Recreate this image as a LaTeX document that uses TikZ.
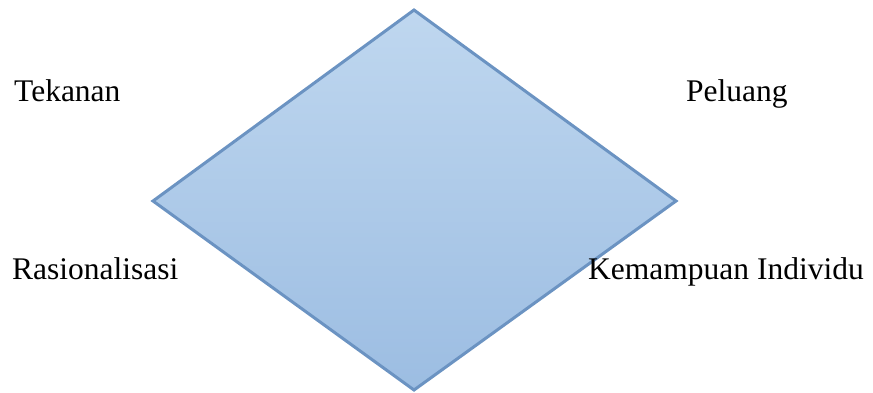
\documentclass[tikz,border=0pt]{standalone}
\usepackage{fontspec}
\setmainfont{Liberation Serif}[Ligatures=TeX]
\newfontfamily\tnr{Liberation Serif}
\definecolor{dtop}{HTML}{BFD7EF}
\definecolor{dbot}{HTML}{9CBDE2}
\definecolor{dline}{HTML}{6B93C2}
\tikzset{lbl/.style={anchor=base west, inner sep=0pt, font=\tnr\fontsize{31.5}{36}\selectfont}}
\begin{document}
\begin{tikzpicture}[x=1pt,y=-1pt]
\useasboundingbox (0,0) rectangle (873,392);
\coordinate (t) at (414,10);
\coordinate (l) at (153,201);
\coordinate (r) at (676,201);
\coordinate (b) at (414,390);
\path[top color=dtop, bottom color=dbot, draw=dline, line width=3pt, line join=miter] (t) -- (r) -- (b) -- (l) -- cycle;
\node[lbl] (tek) at (14,101) {Tekanan};
\node[lbl] (pel) at (686,101) {Peluang};
\node[lbl] (ras) at (12,279) {Rasionalisasi};
\node[lbl] (kem) at (588,279) {Kemampuan Individu};
\end{tikzpicture}
\end{document}
